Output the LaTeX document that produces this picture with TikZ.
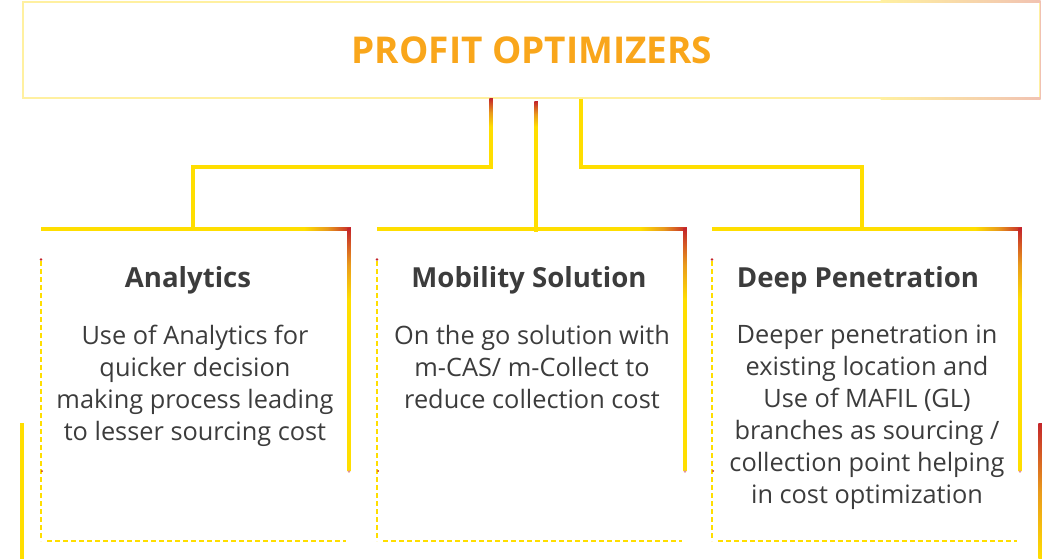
\documentclass[tikz,border=0pt]{standalone}
\usepackage{fontspec}
\setmainfont{Open Sans}
\usetikzlibrary{calc}
\definecolor{ylw}{HTML}{FFDE00}
\definecolor{rd}{HTML}{C4262B}
\definecolor{org}{HTML}{E99A1C}
\definecolor{ttl}{HTML}{F9A61B}
\definecolor{txt}{HTML}{3C3C3C}
\definecolor{pale}{HTML}{FFF0A0}
\definecolor{pinkish}{HTML}{F1C2B2}
\begin{document}
\begin{tikzpicture}[x=0.75pt,y=-0.75pt,
  conn/.style={draw=ylw,line width=2.6pt},
  frame/.style={draw=ylw,line width=2.6pt},
  dashln/.style={draw=ylw,line width=1.7pt,dash pattern=on 3.6pt off 2.4pt},
  topbox/.style={draw=pale,line width=0.8pt,minimum width=762.75pt,minimum height=72pt,inner sep=0pt},
  titletxt/.style={text=ttl,font=\bfseries\fontsize{27.7}{32}\selectfont,inner sep=0pt,anchor=base},
  head/.style={text=txt,font=\bfseries\fontsize{20.7}{24}\selectfont,inner sep=0pt,anchor=base},
  body/.style={text=txt,font=\fontsize{19}{24}\selectfont,inner sep=0pt,anchor=north,align=center},
  grad v/.style={top color=rd,bottom color=ylw,middle color=org},
  grad h/.style={left color=ylw,right color=rd,middle color=org}
]
\useasboundingbox (0,0) rectangle (1049,559);

% top box
\node[topbox] (top) at (531.5,50) {};
\shade[left color=pale,right color=pinkish] ($(top.north east)+(-160,-0.55)$) rectangle ($(top.north east)+(0,0.55)$);
\shade[left color=pale,right color=pinkish] ($(top.south east)+(-160,-0.55)$) rectangle ($(top.south east)+(0,0.55)$);
\draw[pinkish,line width=0.8pt] (top.north east) -- (top.south east);
\node[titletxt] (title) at (532,64) {PROFIT OPTIMIZERS};

% connector coordinates
\coordinate (b1) at (193,229);
\coordinate (b2) at (536,229);
\coordinate (b3) at (862,229);
\coordinate (j1) at (491,167);
\coordinate (j3) at (581,167);

\draw[conn] (top.south -| j1) -- (j1) -| (b1);
\draw[conn] ([yshift=-2.25pt]top.south -| b2) -- ([yshift=-2.25pt]b2);
\draw[conn] (top.south -| j3) -- (j3) -| (b3);
\shade[grad v] ($(top.south -| j1)+(-1.75,0)$) rectangle ($(top.south -| j1)+(1.75,28)$);
\shade[grad v] ($(top.south -| b2)+(-1.75,3)$) rectangle ($(top.south -| b2)+(1.75,28)$);

% boxes
\foreach \L/\R in {41/349,377/685,712/1020}{
  \draw[frame] (\L,229) -- (\R,229) -- (\R,471);
  \shade[grad h] ({\R-45},227.25) rectangle ({\R+1.75},230.75);
  \shade[grad v] ({\R-1.75},229) rectangle ({\R+1.75},300);
  \draw[dashln] (\L,261) -- (\L,541);
  \draw[dashln] ({\L+6},541) -- ({\R-3},541);
  \fill[rd] (\L,259.5) circle (1.3);
  \fill[rd] ({\L+1},471) circle (1);
  \fill[rd!50] (\R,471.5) circle (1.3);
}

% side bars at bottom
\draw[conn] (22,423) -- (22,559);
\shade[grad v] (1038.25,423) rectangle (1041.75,559);

% texts
\node[head] (h1) at (188,288) {Analytics};
\node[head] (h2) at (529,288) {Mobility Solution};
\node[head] (h3) at (858,288) {Deep Penetration};
\node[body] (t1) at (195,325) {Use of Analytics for\\quicker decision\\making process leading\\to lesser sourcing cost};
\node[body] (t2) at (532,325) {On the go solution with\\m-CAS/ m-Collect to\\reduce collection cost};
\node[body] (t3) at (867,325) {Deeper penetration in\\existing location and\\Use of MAFIL (GL)\\branches as sourcing /\\collection point helping\\in cost optimization};
\end{tikzpicture}
\end{document}
